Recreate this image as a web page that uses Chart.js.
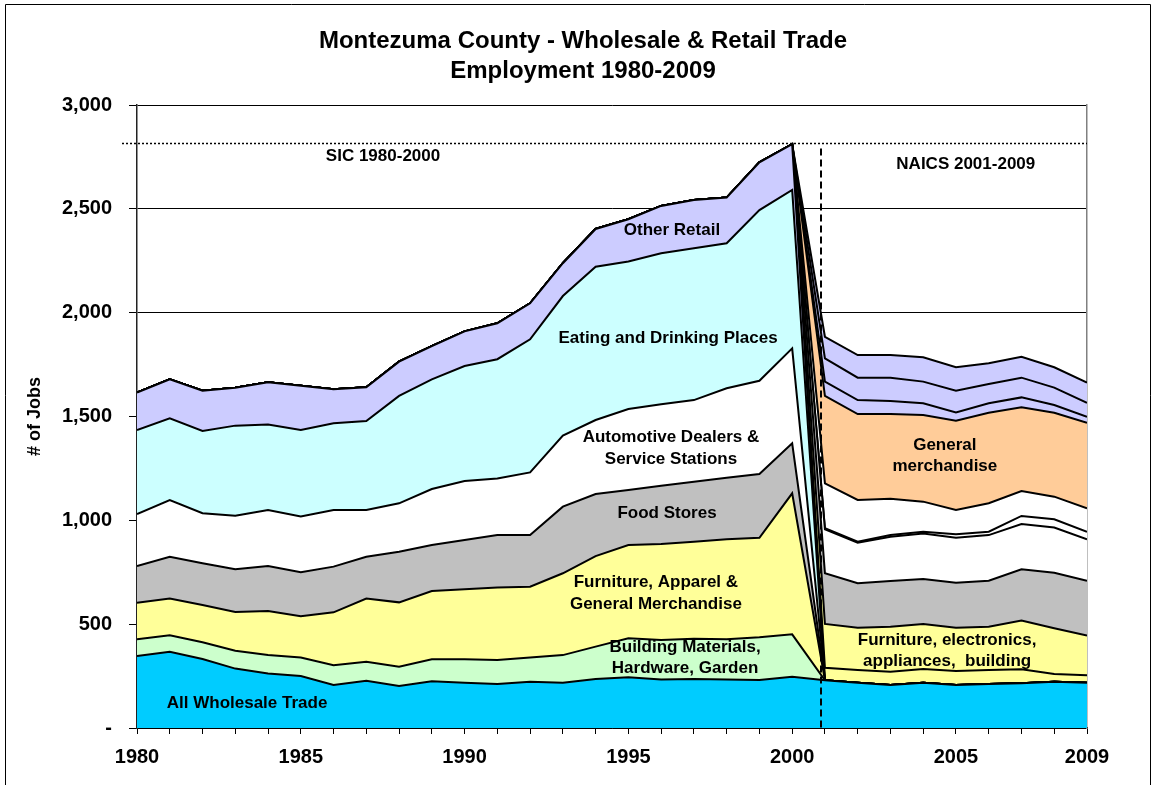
<!DOCTYPE html>
<html>
<head>
<meta charset="utf-8">
<title>Montezuma County - Wholesale & Retail Trade Employment 1980-2009</title>
<script src="https://cdn.jsdelivr.net/npm/chart.js@4/dist/chart.umd.min.js"></script>
<style>
  html, body { margin: 0; padding: 0; background: #fff; overflow: hidden; }
  canvas { display: block; }
</style>
</head>
<body>
<canvas id="empregos" width="1156" height="785"></canvas>
<script>
const anos = [1980, 1981, 1982, 1983, 1984, 1985, 1986, 1987, 1988, 1989,
              1990, 1991, 1992, 1993, 1994, 1995, 1996, 1997, 1998, 1999,
              2000, 2001, 2002, 2003, 2004, 2005, 2006, 2007, 2008, 2009];

// all years
const wholesale = [347, 367, 332, 286, 263, 250, 207, 228, 202, 225,
                   218, 212, 223, 218, 236, 244, 234, 236, 234, 231,
                   247, 230, 218, 207, 218, 207, 212, 215, 223, 218];

// SIC 1980-2000
const sicBuilding   = [80, 79, 81, 86, 89, 89, 95, 91, 93, 106, 113, 115, 117, 133, 156, 188, 190, 194, 193, 206, 204];
const sicFurniture  = [176, 178, 179, 187, 211, 199, 255, 304, 310, 329, 337, 349, 340, 394, 436, 449, 462, 467, 482, 479, 679];
const sicFood       = [177, 201, 201, 205, 217, 212, 220, 202, 244, 221, 237, 253, 249, 321, 299, 265, 281, 289, 296, 307, 241];
const sicAutomotive = [250, 273, 241, 258, 270, 268, 273, 225, 233, 270, 284, 273, 302, 342, 356, 390, 392, 393, 431, 449, 457];
const sicEating     = [405, 393, 396, 434, 412, 417, 417, 428, 517, 528, 554, 574, 641, 672, 738, 710, 727, 731, 698, 822, 763];
const sicOther      = [180, 188, 194, 183, 203, 213, 164, 163, 165, 160, 167, 173, 173, 158, 182, 204, 228, 232, 220, 230, 220];

// NAICS 2001-2009
const naicsBuilding  = [60, 61, 64, 66, 67, 67, 68, 37, 36];
const naicsFurniture = [211, 204, 217, 217, 209, 209, 234, 220, 191];
const naicsFood      = [244, 214, 220, 216, 217, 221, 247, 268, 264];
const naicsMotor     = [212, 195, 213, 220, 216, 220, 218, 217, 200];
const naicsHealth    = [5, 5, 8, 8, 17, 16, 39, 40, 36];
const naicsGasoline  = [216, 201, 175, 145, 117, 137, 120, 109, 113];
const naicsGeneral   = [421, 414, 408, 417, 430, 436, 403, 404, 412];
const naicsClothing  = [69, 67, 63, 57, 40, 46, 48, 37, 29];
const naicsSporting  = [112, 108, 112, 104, 104, 92, 95, 84, 67];
const naicsMisc      = [104, 109, 109, 117, 113, 100, 101, 98, 97];

const yTicks = [0, 500, 1000, 1500, 2000, 2500, 3000];
const xTickLabels = [1980, 1985, 1990, 1995, 2000, 2005, 2009];

const rotulos = [
    { text: ['Other Retail'], year: 1996.33, value: 2398 },
    { text: ['Eating and Drinking Places'], year: 1996.21, value: 1878 },
    { text: ['Automotive Dealers &', 'Service Stations'], year: 1996.3, value: 1348 },
    { text: ['Food Stores'], year: 1996.18, value: 1035 },
    { text: ['Furniture, Apparel &', 'General Merchandise'], year: 1995.84, value: 648 },
    { text: ['Building Materials,', 'Hardware, Garden'], year: 1996.73, value: 337 },
    { text: ['All Wholesale Trade'], year: 1983.36, value: 120 },
    { text: ['General', 'merchandise'], year: 2004.66, value: 1310 },
    { text: ['Furniture, electronics,', 'appliances,  building'], year: 2004.73, value: 371 },
    { text: ['SIC 1980-2000'], year: 1987.51, value: 2754 },
    { text: ['NAICS 2001-2009'], year: 2005.3, value: 2716 }
];
const picoTotal = 2815;
const anoQuebra = 2000.88;

const FONTE = 'Arial, "Liberation Sans", sans-serif';
Chart.defaults.font.family = FONTE;
Chart.defaults.color = '#000';

const zerosSic = anos.slice(21).map(() => 0);
const zerosNaics = anos.slice(0, 21).map(() => 0);

function serie(label, data, cor, fill){
    return {
        label: label,
        data: data,
        backgroundColor: cor,
        borderColor: '#000',
        borderWidth: 2,
        fill: fill,
        pointRadius: 0,
        tension: 0
    };
}

const datasets = [
    serie('All Wholesale Trade', wholesale, '#00CCFF', 'origin'),
    serie('Building Materials, Hardware, Garden', sicBuilding.concat(zerosSic), '#CCFFCC', '-1'),
    serie('Furniture, Apparel & General Merchandise', sicFurniture.concat(zerosSic), '#FFFF99', '-1'),
    serie('Food Stores', sicFood.concat(zerosSic), '#C0C0C0', '-1'),
    serie('Automotive Dealers & Service Stations', sicAutomotive.concat(zerosSic), '#FFFFFF', '-1'),
    serie('Eating and Drinking Places', sicEating.concat(zerosSic), '#CCFFFF', '-1'),
    serie('Other Retail', sicOther.concat(zerosSic), '#CCCCFF', '-1'),
    serie('Building material & garden', zerosNaics.concat(naicsBuilding), '#FFFF99', '-1'),
    serie('Furniture, electronics, appliances', zerosNaics.concat(naicsFurniture), '#FFFF99', '-1'),
    serie('Food & beverage stores', zerosNaics.concat(naicsFood), '#C0C0C0', '-1'),
    serie('Motor vehicle & parts', zerosNaics.concat(naicsMotor), '#FFFFFF', '-1'),
    serie('Health & personal care', zerosNaics.concat(naicsHealth), '#FFFFFF', '-1'),
    serie('Gasoline stations', zerosNaics.concat(naicsGasoline), '#FFFFFF', '-1'),
    serie('General merchandise', zerosNaics.concat(naicsGeneral), '#FFCC99', '-1'),
    serie('Clothing', zerosNaics.concat(naicsClothing), '#CCCCFF', '-1'),
    serie('Sporting goods, books, music', zerosNaics.concat(naicsSporting), '#CCCCFF', '-1'),
    serie('Miscellaneous retail', zerosNaics.concat(naicsMisc), '#CCCCFF', '-1')
];

const anotacoes = {
    id: 'anotacoes',
    afterDatasetsDraw(chart){
        const c = chart.ctx;
        const x = chart.scales.x;
        const y = chart.scales.y;
        const area = chart.chartArea;
        c.save();

        // linha pontilhada do pico
        c.strokeStyle = '#000';
        c.lineWidth = 1.5;
        c.setLineDash([2, 2]);
        c.beginPath();
        c.moveTo(area.left - 15, y.getPixelForValue(picoTotal));
        c.lineTo(area.right, y.getPixelForValue(picoTotal));
        c.stroke();

        // quebra SIC / NAICS
        c.lineWidth = 2;
        c.setLineDash([7, 4]);
        c.beginPath();
        c.moveTo(x.getPixelForValue(anoQuebra), y.getPixelForValue(2790));
        c.lineTo(x.getPixelForValue(anoQuebra), area.bottom);
        c.stroke();
        c.setLineDash([]);

        c.fillStyle = '#000';
        c.font = 'bold 17px ' + FONTE;
        c.textAlign = 'center';
        c.textBaseline = 'middle';
        rotulos.forEach((r) => {
            const px = x.getPixelForValue(r.year);
            const py = y.getPixelForValue(r.value);
            const topo = py - (r.text.length - 1) * 21.5 / 2;
            r.text.forEach((linha, i) => c.fillText(linha, px, topo + i * 21.5));
        });
        c.restore();
    },
    afterDraw(chart){
        const c = chart.ctx;
        c.save();
        c.strokeStyle = '#000';
        c.lineWidth = 1;
        c.beginPath();
        c.moveTo(5.5, 790);
        c.lineTo(5.5, 4.5);
        c.lineTo(1150.5, 4.5);
        c.lineTo(1150.5, 790);
        c.stroke();
        c.restore();
    }
};

function criarGrafico(){
    const ctx = document.getElementById('empregos').getContext('2d');
    new Chart(ctx, {
        type: 'line',
        data: { labels: anos, datasets: datasets },
        plugins: [anotacoes],
        options: {
            responsive: false,
            animation: false,
            events: [],
            layout: { padding: { left: 10, right: 0, top: 0, bottom: 0 } },
            plugins: {
                legend: { display: false },
                tooltip: { enabled: false },
                title: {
                    display: true,
                    text: ['Montezuma County - Wholesale & Retail Trade', 'Employment 1980-2009'],
                    color: '#000',
                    font: { size: 24, weight: 'bold', lineHeight: 1.25 },
                    padding: { top: 26, bottom: 19 }
                }
            },
            scales: {
                x: {
                    type: 'linear',
                    min: 1980,
                    max: 2009,
                    afterFit: (s) => { s.height = 57; },
                    afterBuildTicks: (s) => { s.ticks = anos.map((a) => ({ value: a })); },
                    grid: { drawOnChartArea: false, drawTicks: true, tickLength: 6, color: '#000' },
                    border: { display: true, color: '#000', width: 1.5 },
                    ticks: {
                        autoSkip: false,
                        maxRotation: 0,
                        padding: 11,
                        font: { size: 20, weight: 'bold' },
                        callback: (v) => xTickLabels.includes(v) ? String(v) : ''
                    }
                },
                y: {
                    stacked: true,
                    min: 0,
                    max: 3000,
                    afterFit: (s) => { s.width = 127; },
                    afterBuildTicks: (s) => { s.ticks = yTicks.map((v) => ({ value: v })); },
                    grid: { color: '#000', lineWidth: 1, tickLength: 8 },
                    border: { display: true, color: '#222', width: 1.5 },
                    ticks: {
                        padding: 17,
                        font: { size: 20, weight: 'bold' },
                        callback: (v) => v === 0 ? '-' : v.toLocaleString('en-US')
                    },
                    title: {
                        display: true,
                        text: '# of Jobs',
                        font: { size: 18, weight: 'bold' },
                        padding: { top: 14, bottom: 0 }
                    }
                },
                y2: {
                    position: 'right',
                    min: 0,
                    max: 3000,
                    afterFit: (s) => { s.width = 69; },
                    grid: { display: false },
                    border: { display: true, color: '#808080', width: 1.5 },
                    ticks: { display: false }
                }
            }
        }
    });
}

criarGrafico();
</script>
</body>
</html>
